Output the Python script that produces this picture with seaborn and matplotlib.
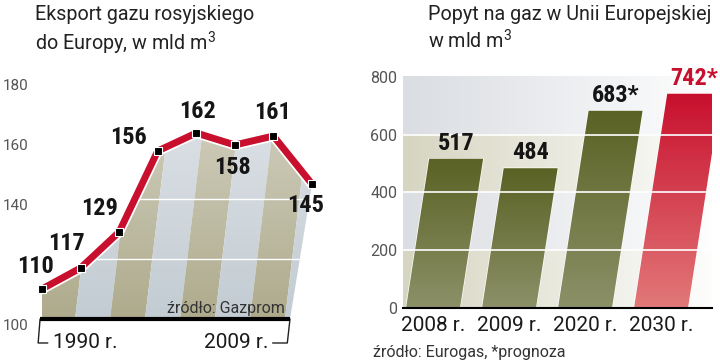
import math
import numpy as np
import pandas as pd
import seaborn as sns
import matplotlib.pyplot as plt
from matplotlib import font_manager, patheffects
from matplotlib.patches import Polygon, Rectangle
from matplotlib.transforms import Affine2D
from matplotlib.colors import to_rgb

# eksport gazu rosyjskiego do Europy, mld m3 (1990 ... 2009)
export_points = ['1990', '1995', '2000', '2005', '2006', '2007', '2008', '2009']
export_values = [110, 117, 129, 156, 162, 158, 161, 145]
export_ticks = [100, 140, 160, 180]

# popyt na gaz w UE, mld m3
demand_years = ['2008 r.', '2009 r.', '2020 r.', '2030 r.']
demand_values = [517, 484, 683, 742]
demand_labels = ['517', '484', '683*', '742*']
demand_ticks = [0, 200, 400, 600, 800]

olive_dark = '#5a6224'
olive_light = '#8c9068'
red_dark = '#c8102e'
red_light = '#e27878'

sns.set_theme(style='white')
available = {f.name for f in font_manager.fontManager.ttflist}


def pick(*names):
    for n in names:
        if n in available:
            return n
    return 'DejaVu Sans'


narrow = pick('Liberation Sans Narrow', 'Roboto Condensed', 'DejaVu Sans')
plt.rcParams['font.family'] = [pick('Roboto', 'Open Sans'), 'DejaVu Sans']

W, H = 720, 364
fig = plt.figure(figsize=(7.2, 3.64), dpi=100)


def px_axes(x0, x1, y0, y1):
    return fig.add_axes([x0 / W, 1 - y1 / H, (x1 - x0) / W, (y1 - y0) / H])


def skew_about(ax, yval, k):
    yb = ax.transData.transform((0, yval))[1]
    return Affine2D().translate(0, -yb).skew(math.atan(k), 0).translate(0, yb)


def vgrad(top, bottom, n=64):
    t = np.linspace(0, 1, n)[:, None]
    return (1 - t) * np.array(to_rgb(top)) + t * np.array(to_rgb(bottom))


# ---------------- left chart ----------------
ax1 = px_axes(30, 330, 60, 330)
xs = np.arange(len(export_values))
xlim1 = (-0.311, 7.467)
ylim1 = (96.33, 186.33)
ax1.set_xlim(*xlim1)
ax1.set_ylim(*ylim1)

base_right = xs[-1] - 0.57
area = Polygon(list(zip(xs, export_values)) + [(base_right, 100), (xs[0], 100)],
               closed=True, facecolor='none', edgecolor='none')
ax1.add_patch(area)

sk1 = ax1.transData + skew_about(ax1, 100, 0.12)
stripe_w = 0.907
for i in range(9):
    left = -0.05 + i * stripe_w
    r = Rectangle((left - (1 if i == 0 else 0), 100), stripe_w + (1 if i == 0 else 0), 80,
                  facecolor='#aeab8d' if i % 2 == 0 else '#c3ccd3', edgecolor='none',
                  transform=sk1, zorder=1)
    ax1.add_patch(r)
    r.set_clip_path(area)

shade = np.zeros((64, 1, 4))
shade[..., :3] = 1
shade[:, 0, 3] = np.linspace(0.4, 0, 64)
im = ax1.imshow(shade, extent=(xlim1[0], xlim1[1], 100, 166), aspect='auto', zorder=2)
im.set_clip_path(area)

for v in [120, 140]:
    ln = ax1.axhline(v, color='white', lw=1, zorder=3)
    ln.set_clip_path(area)

ax1.plot([xs[0] - 0.05, base_right], [100, 100], color='black', lw=3,
         solid_capstyle='butt', zorder=4)
ax1.plot([xs[0] - 0.05, xs[0] - 0.1, xs[0] + 0.15], [100, 92, 92], color='#222222',
         lw=1, clip_on=False)
ax1.plot([base_right, base_right - 0.07, base_right - 0.45], [100, 92, 92], color='#222222',
         lw=1, clip_on=False)

sns.lineplot(x=xs, y=export_values, ax=ax1, color=red_dark, lw=5, zorder=5)
ax1.lines[-1].set_path_effects([patheffects.Stroke(linewidth=7.5, foreground='white'),
                                patheffects.Normal()])
sns.scatterplot(x=xs, y=export_values, ax=ax1, marker='s', s=36, color='black',
                edgecolor='white', linewidth=0.8, zorder=6)

label_offsets = [(-6, 22), (-14, 24), (-20, 23), (-29, 13), (1, 21), (-2, -23), (-1, 23), (-6, -22)]
for x, v, (dx, dy) in zip(xs, export_values, label_offsets):
    ax1.annotate(str(v), (x, v), xytext=(dx, dy), textcoords='offset pixels',
                 ha='center', va='center', fontsize=17.5, fontweight='bold',
                 family=narrow, color='#151515', zorder=7)

ax1.set_xlim(*xlim1)
ax1.set_ylim(*ylim1)
ax1.set_yticks(export_ticks)
ax1.set_yticklabels([str(t) for t in export_ticks], fontsize=11, color='#555555', va='top')
ax1.set_xticks([])
ax1.tick_params(axis='y', length=0, pad=1)
ax1.set_xlabel('')
ax1.set_ylabel('')
sns.despine(ax=ax1, left=True, bottom=True)

fig.text(285 / W, 1 - 308 / H, 'źródło: Gazprom', ha='right', va='center',
         fontsize=11.5, color='#333333')
fig.text(53 / W, 1 - 343 / H, f'{export_points[0]} r.', ha='left', va='center',
         fontsize=15, color='#1a1a1a')
fig.text(268 / W, 1 - 343 / H, f'{export_points[-1]} r.', ha='right', va='center',
         fontsize=15, color='#1a1a1a')
fig.text(35 / W, 1 - 5 / H, 'Eksport gazu rosyjskiego\ndo Europy, w mld m$^\\mathregular{3}$',
         ha='left', va='top', fontsize=14.2, color='#222222', linespacing=1.3)

# ---------------- right chart ----------------
ax2 = px_axes(403, 712, 70, 308)
df = pd.DataFrame({'rok': demand_years, 'mld': demand_values})
sns.barplot(data=df, x='rok', y='mld', hue='rok',
            palette=[olive_dark, olive_dark, olive_dark, red_dark],
            width=0.71, legend=False, ax=ax2, zorder=3)
xlim2 = (-0.395, 3.671)
ylim2 = (0, 824.2)
ax2.set_xlim(*xlim2)
ax2.set_ylim(*ylim2)

bg = np.zeros((4, 100, 4))
bands = ['#dadde2', '#d6d5c1', '#dadde2', '#d6d5c1']
for r, c in enumerate(bands):
    bg[r, :, :3] = to_rgb(c)
bg[:, :, 3] = np.linspace(1, 0.05, 100)[None, :]
ax2.imshow(bg, extent=(xlim2[0], xlim2[1], 0, 800), aspect='auto', zorder=0)

sk2 = ax2.transData + skew_about(ax2, 0, 0.155)
bars = [b for c in ax2.containers for b in c]
top_value = max(demand_values)
for b, v, lab in zip(bars, demand_values, demand_labels):
    b.set_transform(sk2)
    top, bottom = (red_dark, red_light) if v == top_value else (olive_dark, olive_light)
    g = ax2.imshow(vgrad(top, bottom)[:, None, :],
                   extent=(b.get_x() - 0.1, b.get_x() + b.get_width() + 0.7, 0, v),
                   aspect='auto', zorder=3.5)
    g.set_clip_path(b.get_path(), b.get_transform())
    ax2.annotate(lab, (b.get_x() + b.get_width() / 2, v), xycoords=sk2,
                 xytext=(0, 4), textcoords='offset pixels', ha='center', va='bottom',
                 fontsize=17.5, fontweight='bold', family=narrow,
                 color=red_dark if v == top_value else '#151515', zorder=6)

for v in demand_ticks[1:-1]:
    ax2.axhline(v, color='white', lw=1.2, zorder=4)

ax2.set_xlim(*xlim2)
ax2.set_ylim(*ylim2)
ax2.set_yticks(demand_ticks)
ax2.set_yticklabels([str(t) for t in demand_ticks], fontsize=11.5, color='#555555')
ax2.tick_params(axis='y', length=0, pad=4)
ax2.tick_params(axis='x', length=0, pad=6, labelsize=15, labelcolor='#1a1a1a')
ax2.set_xlabel('')
ax2.set_ylabel('')
sns.despine(ax=ax2, left=True)
ax2.spines['bottom'].set_color('black')
ax2.spines['bottom'].set_linewidth(1.5)
ax2.spines['bottom'].set_zorder(5)

fig.text(428 / W, 1 - 5 / H, 'Popyt na gaz w Unii Europejskiej\nw mld m$^\\mathregular{3}$',
         ha='left', va='top', fontsize=14.2, color='#222222', linespacing=1.3)
fig.text(373 / W, 1 - 352 / H, 'źródło: Eurogas, *prognoza', ha='left', va='center',
         fontsize=11.5, color='#333333')

fig.savefig('out.png', dpi=100, facecolor='white')
